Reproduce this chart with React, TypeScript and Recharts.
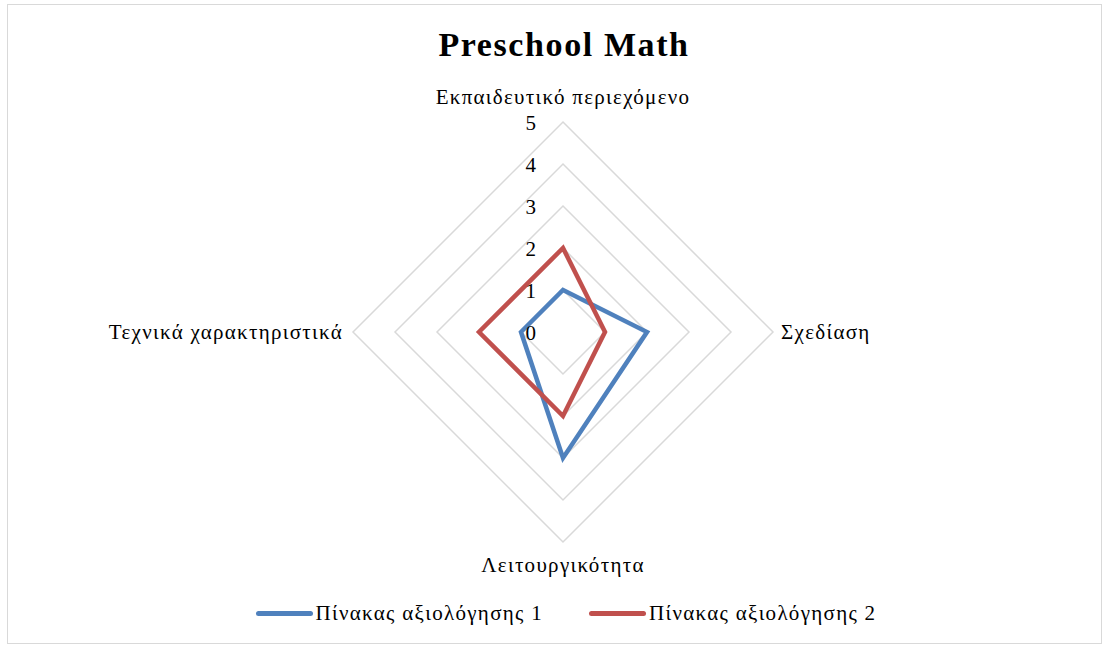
import React from 'react'
import { RadarChart, Radar, PolarGrid, PolarAngleAxis, PolarRadiusAxis, Legend } from 'recharts'

const categories = ['Εκπαιδευτικό περιεχόμενο', 'Σχεδίαση', 'Λειτουργικότητα', 'Τεχνικά χαρακτηριστικά']
const seriesNames = ['Πίνακας αξιολόγησης 1', 'Πίνακας αξιολόγησης 2']
const series1 = [1, 2, 3, 1]
const series2 = [2, 1, 2, 2]
const radiusTicks = [0, 1, 2, 3, 4, 5]

const colors = ['#4f81bd', '#c0504d']
const FONT = '"Liberation Serif", "Times New Roman", serif'

const data = categories.map((name, i) => ({
  name,
  [seriesNames[0]]: series1[i],
  [seriesNames[1]]: series2[i],
}))

const CX = 563
const CY = 332
const R = 210

// category labels placed just outside the outer polygon
function AngleTick(props: any) {
  const { payload } = props
  const angle = (payload.coordinate * Math.PI) / 180
  const cos = Math.cos(angle)
  const sin = -Math.sin(angle)
  let x = CX + cos * R
  let y = CY + sin * R
  let anchor: 'start' | 'middle' | 'end' = 'middle'
  if (Math.abs(cos) < 0.01) {
    y += sin < 0 ? -25 : 23
  } else if (cos > 0) {
    x += 8
    anchor = 'start'
  } else {
    x -= 10
    anchor = 'end'
  }
  return (
    <text
      x={x}
      y={y}
      textAnchor={anchor}
      dominantBaseline="central"
      fontSize={21}
      letterSpacing={1.3}
      fontFamily={FONT}
      fill="#000"
    >
      {payload.value}
    </text>
  )
}

function RadiusTick(props: any) {
  const { x, y, payload } = props
  return (
    <text x={x - 27} y={y + 1} textAnchor="end" dominantBaseline="central" fontSize={21} fontFamily={FONT} fill="#000">
      {payload.value}
    </text>
  )
}

function LegendContent() {
  return (
    <div style={{ display: 'flex', justifyContent: 'center', alignItems: 'center', fontFamily: FONT, fontSize: 21, letterSpacing: 1.3, lineHeight: '22px' }}>
      {seriesNames.map((n, i) => (
        <div key={n} style={{ display: 'flex', alignItems: 'center', marginLeft: i ? 46 : 0 }}>
          <div style={{ width: 57, height: 5, borderRadius: 3, background: colors[i], marginRight: 3 }} />
          <span>{n}</span>
        </div>
      ))}
    </div>
  )
}

export default function App() {
  return (
    <div style={{ position: 'absolute', left: 0, top: 0, width: 1110, height: 648, background: '#fff' }}>
      <div
        style={{
          position: 'absolute',
          left: 7,
          top: 4,
          width: 1095,
          height: 640,
          border: '1.5px solid #d9d9d9',
          boxSizing: 'border-box',
        }}
      />
      <div
        style={{
          position: 'absolute',
          left: 0,
          width: 1128,
          top: 25,
          textAlign: 'center',
          fontFamily: FONT,
          fontWeight: 'bold',
          fontSize: 34,
          letterSpacing: 1.6,
          lineHeight: '40px',
        }}
      >
        Preschool Math
      </div>
      <div style={{ position: 'absolute', left: 0, top: 0 }}>
        <RadarChart width={1110} height={648} data={data} cx={CX} cy={CY} outerRadius={R} margin={{ top: 0, right: 0, bottom: 0, left: 0 }}>
          <PolarGrid gridType="polygon" radialLines={false} stroke="#d9d9d9" strokeWidth={1.5} />
          <PolarAngleAxis dataKey="name" tick={<AngleTick />} tickLine={false} axisLine={false} />
          <PolarRadiusAxis
            angle={90}
            domain={[0, 5]}
            ticks={radiusTicks as any}
            tickCount={6}
            axisLine={false}
            tick={<RadiusTick />}
          />
          {seriesNames.map((n, i) => (
            <Radar
              key={n}
              name={n}
              dataKey={n}
              stroke={colors[i]}
              strokeWidth={4.5}
              fill="none"
              fillOpacity={0}
              dot={false}
              isAnimationActive={false}
            />
          ))}
          <Legend content={<LegendContent />} wrapperStyle={{ top: 602, left: 0, width: 1132 }} />
        </RadarChart>
      </div>
    </div>
  )
}
